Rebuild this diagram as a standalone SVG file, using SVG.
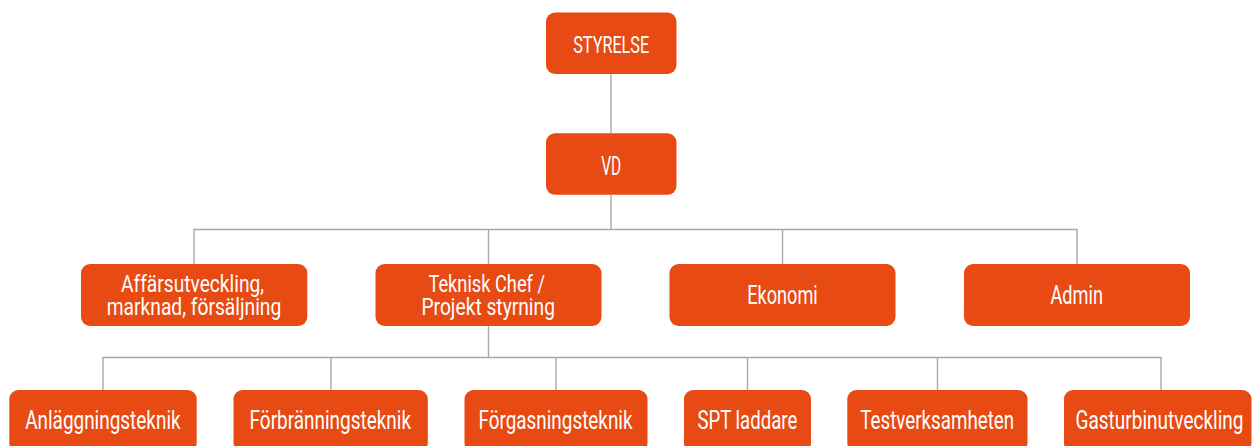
<svg xmlns="http://www.w3.org/2000/svg" width="1252" height="446" viewBox="0 0 1252 446">
<style>
.box{fill:#e84a13;}
.t{font-family:Roboto,"Liberation Sans",sans-serif;font-size:25.5px;fill:#ffffff;text-anchor:middle;}
.t2{font-size:24.5px;}
.c{fill:none;stroke:#a9a9a9;stroke-width:1.4;}
</style>
<rect width="1252" height="446" fill="#ffffff"/>
<g id="connectors" class="c">
<path d="M611 74V133"/>
<path d="M611 195V229.5"/>
<path d="M194 264V229.5H1077V264"/>
<path d="M488.5 229.5V264"/>
<path d="M782.5 229.5V264"/>
<path d="M488.5 326V357.5"/>
<path d="M103 390V357.5H1161V390"/>
<path d="M331 357.5V390"/>
<path d="M556 357.5V390"/>
<path d="M747.5 357.5V390"/>
<path d="M937.5 357.5V390"/>
</g>
<g id="styrelse"><rect class="box" x="546" y="12.5" width="130.5" height="61.5" rx="9"/><text class="t" x="611.2" y="53.3" style="font-size:23.5px" textLength="76" lengthAdjust="spacingAndGlyphs">STYRELSE</text></g>
<g id="vd"><rect class="box" x="546" y="133.3" width="130.5" height="61.5" rx="9"/><text class="t" x="611.2" y="175" textLength="20" lengthAdjust="spacingAndGlyphs">VD</text></g>
<g id="affarsutveckling"><rect class="box" x="81" y="264" width="226.3" height="62" rx="9"/><text class="t t2" x="192.5" y="291.6" textLength="143" lengthAdjust="spacingAndGlyphs">Affärsutveckling,</text><text class="t t2" x="194" y="315" textLength="174.5" lengthAdjust="spacingAndGlyphs">marknad, försäljning</text></g>
<g id="teknisk-chef"><rect class="box" x="375.5" y="264" width="226" height="62" rx="9"/><text class="t t2" x="486.7" y="291.6" textLength="116.5" lengthAdjust="spacingAndGlyphs">Teknisk Chef /</text><text class="t t2" x="488.2" y="315" textLength="133.5" lengthAdjust="spacingAndGlyphs">Projekt styrning</text></g>
<g id="ekonomi"><rect class="box" x="669.5" y="264" width="226" height="62" rx="9"/><text class="t" x="782.5" y="304" textLength="70.5" lengthAdjust="spacingAndGlyphs">Ekonomi</text></g>
<g id="admin"><rect class="box" x="964" y="264" width="226" height="62" rx="9"/><text class="t" x="1076.7" y="304" textLength="52.5" lengthAdjust="spacingAndGlyphs">Admin</text></g>
<g id="anlaggningsteknik"><rect class="box" x="9.3" y="390" width="187.4" height="62" rx="9"/><text class="t" x="102.9" y="429" textLength="155.5" lengthAdjust="spacingAndGlyphs">Anläggningsteknik</text></g>
<g id="forbranningsteknik"><rect class="box" x="233.5" y="390" width="194.3" height="62" rx="9"/><text class="t" x="330.3" y="429" textLength="161.5" lengthAdjust="spacingAndGlyphs">Förbränningsteknik</text></g>
<g id="forgasningsteknik"><rect class="box" x="464.5" y="390" width="183" height="62" rx="9"/><text class="t" x="555.5" y="429" textLength="154" lengthAdjust="spacingAndGlyphs">Förgasningsteknik</text></g>
<g id="spt-laddare"><rect class="box" x="684" y="390" width="127" height="62" rx="9"/><text class="t" x="747.4" y="429" textLength="100" lengthAdjust="spacingAndGlyphs">SPT laddare</text></g>
<g id="testverksamheten"><rect class="box" x="847.3" y="390" width="180.2" height="62" rx="9"/><text class="t" x="937.2" y="429" textLength="154" lengthAdjust="spacingAndGlyphs">Testverksamheten</text></g>
<g id="gasturbinutveckling"><rect class="box" x="1064" y="390" width="187.5" height="62" rx="9"/><text class="t" x="1159.5" y="429" textLength="168" lengthAdjust="spacingAndGlyphs">Gasturbinutveckling</text></g>
</svg>
